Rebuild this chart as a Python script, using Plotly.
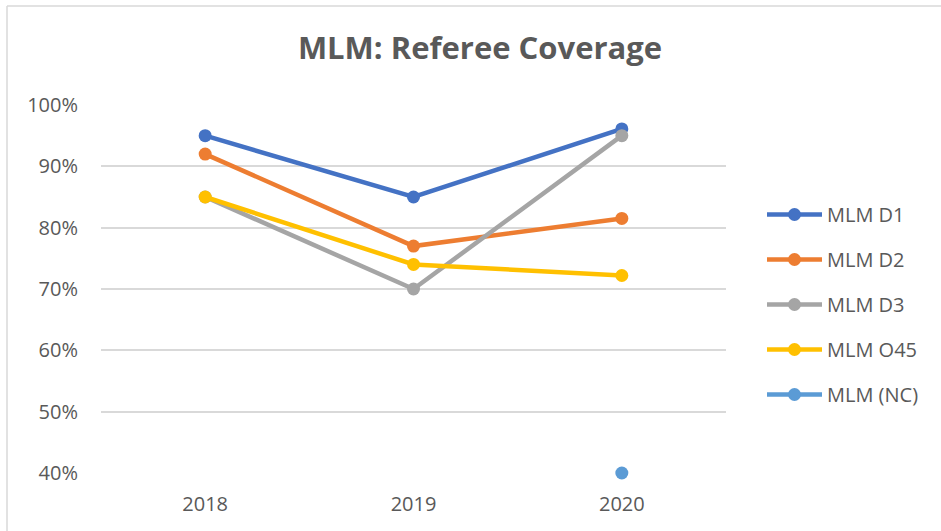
import plotly.graph_objects as go

years = ["2018", "2019", "2020"]
d1 = [0.95, 0.85, 0.961]
d2 = [0.92, 0.77, 0.815]
d3 = [0.85, 0.70, 0.95]
o45 = [0.85, 0.74, 0.722]
nc = [None, None, 0.40]
series_names = ["MLM D1", "MLM D2", "MLM D3", "MLM O45", "MLM (NC)"]
colors = ["#4472C4", "#ED7D31", "#A5A5A5", "#FFC000", "#5B9BD5"]
tick_vals = [0.4, 0.5, 0.6, 0.7, 0.8, 0.9, 1.0]
tick_text = ["40%", "50%", "60%", "70%", "80%", "90%", "100%"]

FONT = "Open Sans, Lato, sans-serif"
fig = go.Figure()
for i, (name, vals) in enumerate(zip(series_names, [d1, d2, d3, o45, nc])):
    fig.add_trace(go.Scatter(
        x=years, y=vals, name=name, mode="lines+markers",
        line=dict(color=colors[i], width=4.5),
        marker=dict(color=colors[i], size=13),
        legendgroup=f"g{i}", cliponaxis=False,
    ))

W, H = 941, 531
L, R, T, B = 101, 215, 105, 58
pw, ph = W - L - R, H - T - B

def px(x):
    return (x - L) / pw

def py(y):
    return (H - B - y) / ph

fig.add_shape(type="line", xref="paper", yref="paper", x0=px(7), x1=px(941), y0=py(6), y1=py(6),
              line=dict(color="#D9D9D9", width=1.5))
fig.add_shape(type="line", xref="paper", yref="paper", x0=px(7), x1=px(7), y0=py(6), y1=py(531),
              line=dict(color="#D9D9D9", width=1.5))

fig.update_layout(
    width=W, height=H,
    margin=dict(l=L, r=R, t=T, b=B),
    paper_bgcolor="white", plot_bgcolor="white",
    title=dict(text="<b>MLM: Referee Coverage</b>", x=480 / W, xanchor="center",
               y=1 - 48 / H, yanchor="middle", yref="container",
               font=dict(family=FONT, size=31, color="#595959")),
    font=dict(family=FONT, color="#595959"),
    legend=dict(x=px(762), xanchor="left", y=py(195), yanchor="top",
                font=dict(size=20, color="#595959"), tracegroupgap=16,
                itemwidth=55, bgcolor="rgba(0,0,0,0)"),
    showlegend=True,
)
fig.update_xaxes(type="category", range=[-0.5, 2.5], showgrid=False, showline=False, ticks="",
                 tickfont=dict(size=20, color="#595959"), ticklabelstandoff=17)
fig.update_yaxes(range=[0.4, 1.0], tickvals=tick_vals, ticktext=tick_text,
                 showgrid=True, gridcolor="#D9D9D9", gridwidth=1.5, zeroline=False,
                 showline=False, ticks="", tickfont=dict(size=20, color="#595959"),
                 ticklabelstandoff=22)

fig.write_html("out.html", config={"displayModeBar": False},
               post_script="document.body.style.margin='0';document.body.style.overflow='hidden';")
